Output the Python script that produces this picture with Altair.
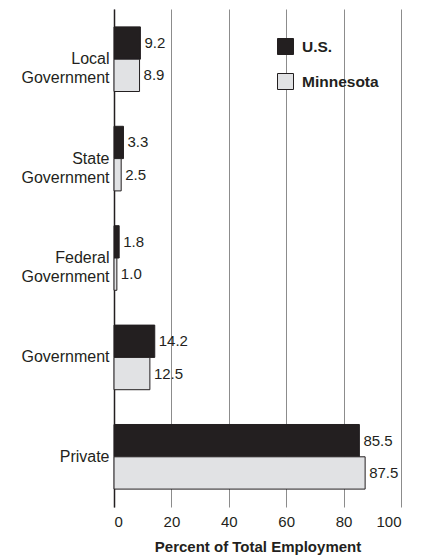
import altair as alt
import pandas as pd

categories = ["Local Government", "State Government", "Federal Government", "Government", "Private"]
us = [9.2, 3.3, 1.8, 14.2, 85.5]
mn = [8.9, 2.5, 1.0, 12.5, 87.5]
series = ["U.S.", "Minnesota"]
x_ticks = [0, 20, 40, 60, 80, 100]

rows = []
for c, u, m in zip(categories, us, mn):
    rows.append({"cat": c, "series": "U.S.", "value": u})
    rows.append({"cat": c, "series": "Minnesota", "value": m})
df = pd.DataFrame(rows)

FONT = "Liberation Sans"
DARK = "#231f20"

y = alt.Y("cat:N", sort=categories,
          scale=alt.Scale(paddingInner=0.35, paddingOuter=0.18),
          axis=alt.Axis(title=None, labelExpr="split(datum.label, ' ')",
                        labelFontSize=16, labelFont=FONT, labelColor=DARK,
                        labelLineHeight=19, labelPadding=5, ticks=False,
                        domain=True, domainColor=DARK, domainWidth=1.5,
                        grid=False))
yoff = alt.YOffset("series:N", sort=series, scale=alt.Scale(paddingInner=0, paddingOuter=0))
x = alt.X("value:Q", scale=alt.Scale(domain=[0, 100], nice=False),
          axis=alt.Axis(values=x_ticks, title="Percent of Total Employment",
                        titleFont=FONT, titleFontSize=15, titleFontWeight="bold",
                        titleColor=DARK, titlePadding=10,
                        labelFont=FONT, labelFontSize=15, labelColor=DARK,
                        labelPadding=7, ticks=False, domain=False,
                        grid=True, gridColor="#8c8c8c", gridWidth=1))

bars = alt.Chart(df).mark_bar(stroke=DARK, strokeWidth=1).encode(
    y=y, yOffset=yoff, x=x,
    color=alt.Color("series:N", sort=series,
                    scale=alt.Scale(domain=series, range=[DARK, "#e1e2e4"]),
                    legend=alt.Legend(title=None, orient="none", legendX=163, legendY=29,
                                      padding=0, symbolType="square", symbolSize=256,
                                      symbolStrokeColor=DARK, symbolStrokeWidth=1,
                                      symbolOpacity=1,
                                      labelFont=FONT, labelFontSize=15.5,
                                      labelFontWeight="bold", labelColor=DARK,
                                      labelOffset=8, rowPadding=14)),
)

labels = alt.Chart(df).mark_text(align="left", baseline="middle", dx=4,
                                 font=FONT, fontSize=15, color=DARK).encode(
    y=alt.Y("cat:N", sort=categories), yOffset=alt.YOffset("series:N", sort=series),
    x=alt.X("value:Q"),
    text=alt.Text("value:Q", format=".1f"),
)

chart = alt.layer(bars, labels).properties(
    width=287, height=498,
    padding={"left": 12, "top": 1, "right": 5, "bottom": 5},
).configure_view(stroke=None)

chart.save("out.html", embed_options={"renderer": "svg", "actions": False})
